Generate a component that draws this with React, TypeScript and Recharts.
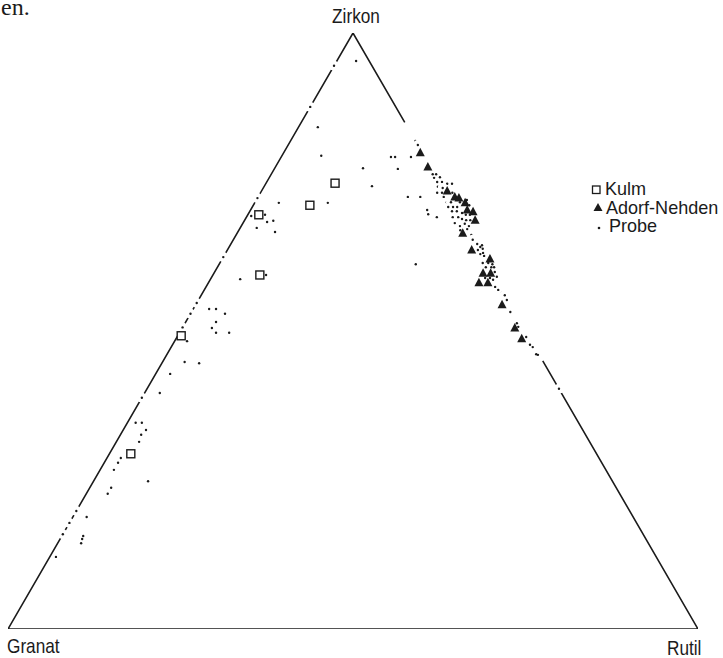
import React from 'react';
import { ScatterChart, Scatter, XAxis, YAxis } from 'recharts';

const W = 723;
const H = 658;
const INK = '#1b1b1b';
const FONT = '"Liberation Sans", Arial, sans-serif';

// compositions in %: [Zirkon, Rutil], Granat = 100 - Zirkon - Rutil
const kulm = [
  [74.8, 10.0], [71.1, 8.2], [69.5, 1.6], [59.4, 6.8], [49.2, 0.5], [29.4, 3.1],
];

const adorfNehden = [
  [79.9, 19.8], [77.5, 22.1], [73.5, 26.9], [72.5, 28.5], [72.3, 29.2], [71.5, 30.5],
  [70.3, 31.4], [70.0, 32.4], [68.6, 33.4], [66.4, 32.7], [63.6, 35.4], [62.1, 38.8],
  [59.7, 39.0], [59.7, 40.1], [58.1, 39.2], [58.1, 40.5], [54.4, 44.4], [50.5, 48.2],
  [48.7, 50.1],
];

const probe = [
  // Zirkon-Granat side
  [95.3, 2.8], [94.5, 0], [87.6, 0], [84.2, 2.8], [79.4, 5.7], [77.3, 12.8], [74.3, 15.6],
  [72.3, 0], [71.5, 3.5], [71.5, 10.6], [69.3, 0.6], [69.5, 2.5], [68.3, 3.4], [68.5, 4.2],
  [67.3, 2.4], [66.6, 5.4], [62.4, 0], [58.7, 4.3], [59.4, 7.7], [54.7, 0], [52.9, 0],
  [50.6, 0], [53.7, 2.3], [53.7, 3.3], [52.9, 5.0], [51.5, 4.4], [50.5, 4.3], [49.7, 5.3],
  [49.7, 7.2], [48.3, 1.8], [44.8, 3.2], [44.6, 5.4], [42.8, 2.1], [39.6, 2.2], [38.8, 0],
  [34.6, 1.2], [34.6, 2.1], [33.4, 3.3], [32.6, 3.0], [31.4, 3.3], [28.7, 2.0], [27.9, 2.0],
  [26.7, 2.0], [24.8, 7.9], [23.7, 3.1], [22.7, 3.1], [19.8, 0], [18.8, 2.0], [17.8, 0],
  [15.9, 0], [15.6, 3.1], [15.1, 3.2], [14.4, 3.4], [12.1, 0.9],
  // Zirkon-Rutil side
  [79.2, 15.9], [79.2, 16.5], [79.2, 18.8], [77.2, 17.9], [81.9, 18.1], [81.2, 18.8],
  [72.5, 21.7], [72.5, 23.5], [70.3, 25.6], [69.6, 26.1], [69.1, 27.6], [61.2, 28.5],
  [76.3, 23.4], [76.3, 23.9], [75.7, 23.9], [75.8, 24.7], [75.0, 24.7], [75.0, 25.4],
  [74.7, 26.3], [74.7, 27.0], [74.2, 25.2], [74.0, 26.0], [73.2, 25.6], [73.2, 26.3],
  [72.5, 26.9], [73.2, 27.8], [72.0, 28.5], [71.6, 27.8], [71.6, 28.4], [70.8, 28.4],
  [70.8, 29.1], [70.8, 29.7], [71.6, 29.7], [72.0, 30.5], [71.1, 31.3], [70.1, 29.3],
  [70.1, 30.0], [69.8, 30.9], [69.5, 31.6], [69.5, 32.2], [69.1, 29.9], [69.1, 30.7],
  [68.8, 31.4], [68.6, 32.1], [68.6, 32.7], [68.1, 30.7], [67.6, 31.7], [68.0, 32.2],
  [67.6, 33.0], [66.9, 32.1], [67.1, 33.0], [66.1, 34.1], [65.4, 34.4], [65.3, 34.7],
  [64.6, 35.7], [64.1, 36.4], [64.4, 36.5], [63.6, 36.3], [63.8, 36.9], [63.1, 37.3],
  [62.9, 37.0], [62.6, 37.7], [61.4, 38.1], [61.4, 38.9], [61.2, 39.6], [60.7, 38.9],
  [60.7, 39.7], [60.7, 40.1], [59.9, 40.6], [59.1, 41.3], [58.6, 41.0], [58.9, 39.7],
  [58.9, 40.4], [57.4, 41.9], [56.9, 42.6], [56.4, 43.4], [56.0, 44.0], [55.2, 44.7],
  [53.2, 46.2], [51.3, 48.1], [50.7, 48.6], [49.0, 50.6], [47.7, 51.8], [47.3, 52.4],
  [46.1, 53.5], [46.0, 53.8], [40.3, 59.7],
];

const corners = ['Zirkon', 'Granat', 'Rutil'];
const seriesNames = ['Kulm', 'Adorf-Nehden', 'Probe'];

// the Zirkon-Rutil side is left open where the Adorf-Nehden cloud sits (Zirkon % at both ends)
const rightGap = [85, 45];

// triangle: Granat (0,0), Rutil (100,0), Zirkon (50,100)
const toXY = ([z, r]: number[]) => ({ x: r + z / 2, y: z, z, r, g: 100 - z - r });

const outline = [
  { x: 100 - rightGap[0] / 2, y: rightGap[0] },
  { x: 50, y: 100 },
  { x: 0, y: 0 },
  { x: 100, y: 0 },
  { x: 100 - rightGap[1] / 2, y: rightGap[1] },
];

const NoDot = () => <g />;

const ProbeDot = (props: any) => {
  const { cx, cy, payload } = props;
  const onEdge = payload.r < 0.05 || Math.abs(payload.g) < 0.05;
  return (
    <g>
      {onEdge && <circle cx={cx} cy={cy} r={5} fill="#fff" />}
      <circle cx={cx} cy={cy} r={1.2} fill={INK} />
    </g>
  );
};

const KulmSquare = (props: any) => {
  const { cx, cy } = props;
  return <rect x={cx - 4} y={cy - 4} width={8} height={8} fill="#fff" stroke={INK} strokeWidth={1.4} />;
};

const AdorfTriangle = (props: any) => {
  const { cx, cy } = props;
  return <polygon points={`${cx},${cy - 5} ${cx + 4.5},${cy + 3.5} ${cx - 4.5},${cy + 3.5}`} fill={INK} />;
};

// narrow grotesque lettering of the print: Arial metrics squeezed horizontally
const Narrow = ({ x, y, size, squeeze = 0.82, anchor = 'start', children }: any) => (
  <text
    transform={`translate(${x},${y}) scale(${squeeze},1)`}
    fontFamily={FONT}
    fontSize={size}
    textAnchor={anchor}
    fill={INK}
  >
    {children}
  </text>
);

export default function App() {
  return (
    <div style={{ position: 'absolute', left: 0, top: 0, width: W, height: H, background: '#fff' }}>
      <ScatterChart width={W} height={H} margin={{ top: 33, right: 25, bottom: 29, left: 8 }}>
        <XAxis type="number" dataKey="x" domain={[0, 100]} hide allowDataOverflow />
        <YAxis type="number" dataKey="y" domain={[0, 100]} hide allowDataOverflow />
        <Scatter
          data={outline}
          line={{ stroke: INK, strokeWidth: 1.6 }}
          shape={NoDot}
          legendType="none"
          isAnimationActive={false}
        />
        <Scatter name={seriesNames[2]} data={probe.map(toXY)} shape={ProbeDot} isAnimationActive={false} />
        <Scatter name={seriesNames[0]} data={kulm.map(toXY)} shape={KulmSquare} isAnimationActive={false} />
        <Scatter name={seriesNames[1]} data={adorfNehden.map(toXY)} shape={AdorfTriangle} isAnimationActive={false} />
      </ScatterChart>

      <svg width={W} height={H} style={{ position: 'absolute', left: 0, top: 0, pointerEvents: 'none' }}>
        <text x={1} y={15} fontFamily='"Liberation Serif", "DejaVu Serif", serif' fontSize={24} fill={INK}>en.</text>

        <Narrow x={356} y={23} size={21} anchor="middle">{corners[0]}</Narrow>
        <Narrow x={7} y={653} size={21}>{corners[1]}</Narrow>
        <Narrow x={667} y={655} size={21}>{corners[2]}</Narrow>

        <rect x={592.5} y={186} width={7.5} height={7.5} fill="none" stroke={INK} strokeWidth={1.3} />
        <Narrow x={605} y={195} size={19} squeeze={0.95}>{seriesNames[0]}</Narrow>
        <polygon points="598,203 602.5,211 593.5,211" fill={INK} />
        <Narrow x={606} y={213.5} size={19} squeeze={0.95}>{seriesNames[1]}</Narrow>
        <circle cx={599} cy={228} r={1.3} fill={INK} />
        <Narrow x={609} y={232} size={19} squeeze={0.95}>{seriesNames[2]}</Narrow>
      </svg>
    </div>
  );
}
